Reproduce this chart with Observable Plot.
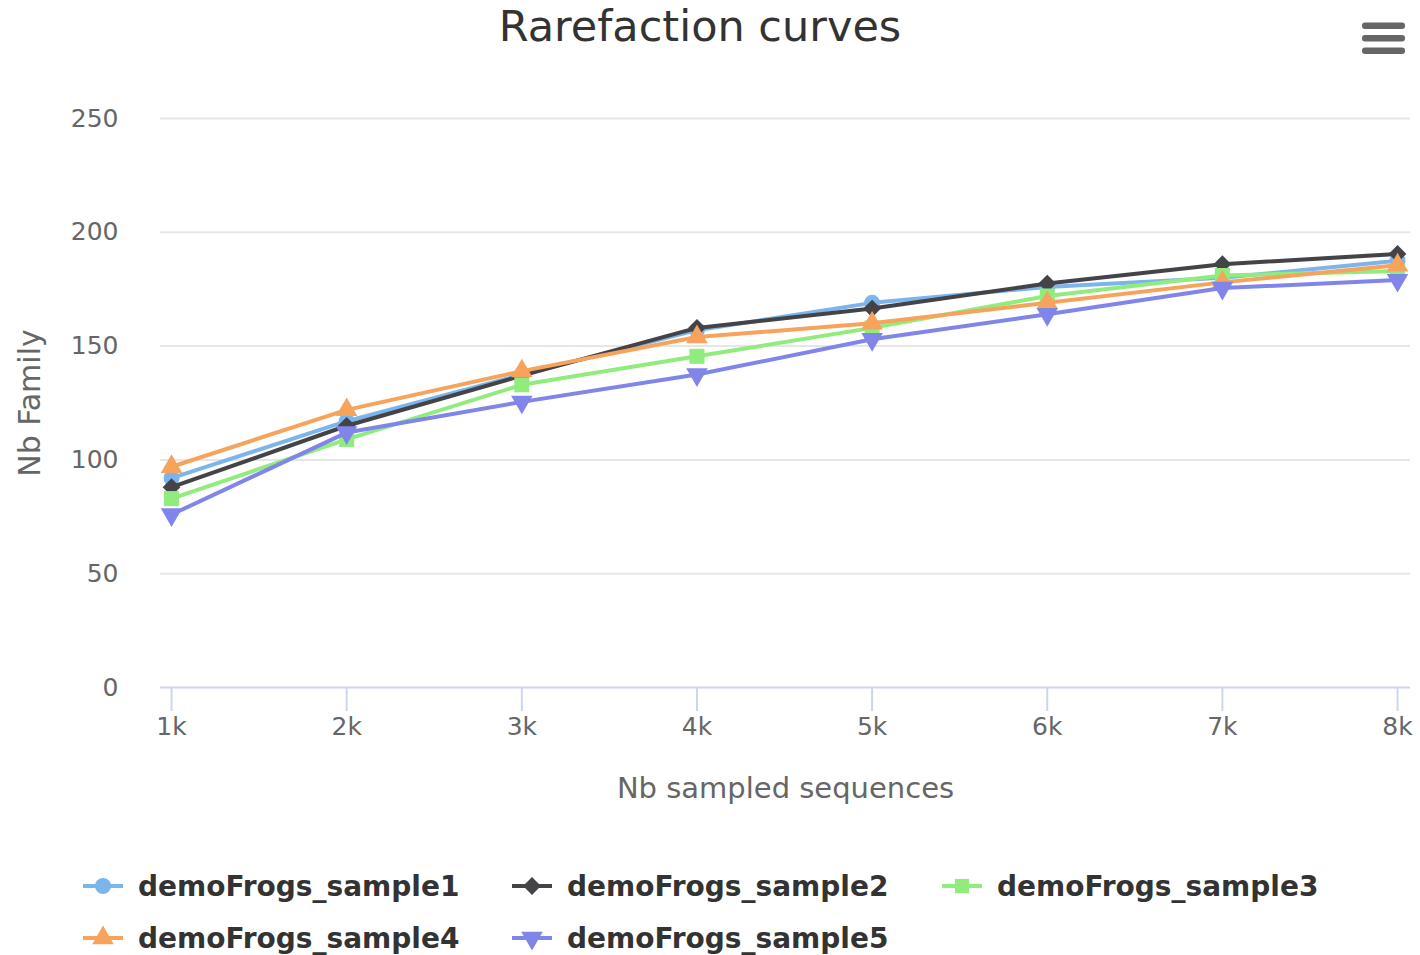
<!DOCTYPE html>
<html>
<head>
<meta charset="utf-8">
<script src="https://cdn.jsdelivr.net/npm/d3@7"></script>
<script src="https://cdn.jsdelivr.net/npm/@observablehq/plot@0.6"></script>
<style>
  body { margin: 0; background: #fff; font-family: "DejaVu Sans", sans-serif; }
  #wrap { position: relative; width: 1420px; height: 955px; overflow: hidden; background: #fff; }
  #title { position: absolute; left: 0; width: 1400px; top: 1px; text-align: center; font-size: 43px; color: #333; white-space: nowrap; }
  #menu { position: absolute; left: 1362px; top: 22px; }
  #chart { position: absolute; left: 0; top: 80px; }
  .leg { position: absolute; height: 40px; display: flex; align-items: center; white-space: nowrap; }
  .leg span { margin-left: 15px; font-weight: bold; font-size: 28px; color: #333; }
</style>
</head>
<body>
<div id="wrap">
  <div id="title">Rarefaction curves</div>
  <svg id="menu" width="44" height="34">
    <rect x="0" y="0.5" width="43" height="6.5" rx="3" fill="#666"></rect>
    <rect x="0" y="13" width="43" height="6.5" rx="3" fill="#666"></rect>
    <rect x="0" y="25.5" width="43" height="6.5" rx="3" fill="#666"></rect>
  </svg>
  <div id="chart"></div>
  <div id="legend"></div>
</div>
<script>
// ---- data ----
const xValues = [1000, 2000, 3000, 4000, 5000, 6000, 7000, 8000];
const xTickLabels = ["1k", "2k", "3k", "4k", "5k", "6k", "7k", "8k"];
const yTicks = [0, 50, 100, 150, 200, 250];
const seriesNames = ["demoFrogs_sample1", "demoFrogs_sample2", "demoFrogs_sample3", "demoFrogs_sample4", "demoFrogs_sample5"];
const sample1 = [92, 117, 137.5, 157, 169, 176, 180, 187.5];
const sample2 = [88, 115, 137, 158, 166.5, 177.5, 186, 190.5];
const sample3 = [83, 109, 133, 145.5, 158, 172, 181, 183];
const sample4 = [97, 122, 139, 154, 160, 169, 178, 185.5];
const sample5 = [76, 112, 125.5, 137.5, 153, 164, 175.5, 179];
const seriesValues = [sample1, sample2, sample3, sample4, sample5];
const colors = ["#7cb5ec", "#434348", "#90ed7d", "#f7a35c", "#8085e9"];
const symbols = ["circle", "diamond2", "square", "triangle", "triangle"];
const rotations = [0, 0, 0, 0, 180];
const xLabel = "Nb sampled sequences";
const yLabel = "Nb Family";

const rows = seriesNames.flatMap((name, i) =>
  seriesValues[i].map((v, j) => ({series: name, x: xValues[j], y: v})));

const seriesMarks = seriesNames.flatMap((name, i) => {
  const d = rows.filter(r => r.series === name);
  return [
    Plot.line(d, {x: "x", y: "y", stroke: "series", strokeWidth: 4}),
    Plot.dot(d, {x: "x", y: "y", fill: "series", symbol: symbols[i], r: symbols[i] === "square" ? 8.5 : 8, rotate: rotations[i], stroke: "none"})
  ];
});

const chart = Plot.plot({
  width: 1420,
  height: 740,
  marginTop: 38,
  marginBottom: 133,
  marginLeft: 160,
  marginRight: 10,
  style: {fontFamily: "DejaVu Sans, sans-serif", fontSize: "25px", color: "#666", background: "transparent"},
  x: {domain: [937, 8074]},
  y: {domain: [0, 250]},
  color: {domain: seriesNames, range: colors},
  marks: [
    Plot.gridY({ticks: yTicks.filter(t => t > 0), stroke: "#e6e6e6", strokeOpacity: 1, strokeWidth: 2}),
    Plot.ruleY([0], {stroke: "#ccd6eb", strokeWidth: 2}),
    Plot.axisX({ticks: xValues, tickFormat: (d) => xTickLabels[xValues.indexOf(d)], tickSize: 24, tickPadding: 6, stroke: "#ccd6eb", strokeWidth: 2, fill: "#666", label: null}),
    Plot.axisY({ticks: yTicks, tickSize: 0, tickPadding: 42, fill: "#666", label: null}),
    Plot.text([yLabel], {frameAnchor: "left", textAnchor: "middle", dx: -130, rotate: -90, fontSize: 30, fill: "#666"}),
    Plot.text([xLabel], {frameAnchor: "bottom", dy: 110, fontSize: 29, fill: "#666"}),
    ...seriesMarks
  ]
});
document.getElementById("chart").appendChild(chart);

// ---- legend ----
const legend = document.getElementById("legend");
const cols = [83, 512, 942];
const rowY = [886, 938];
seriesNames.forEach((name, i) => {
  const item = document.createElement("div");
  item.className = "leg";
  item.style.left = cols[i % 3] + "px";
  item.style.top = (rowY[Math.floor(i / 3)] - 20) + "px";
  const size = Math.PI * 64;
  const symMap = {circle: d3.symbolCircle, diamond2: d3.symbolDiamond2, square: d3.symbolSquare, triangle: d3.symbolTriangle};
  const path = d3.symbol(symMap[symbols[i]], size)();
  item.innerHTML = `<svg width="40" height="40"><line x1="0" x2="40" y1="20" y2="20" stroke="${colors[i]}" stroke-width="4"></line><path d="${path}" fill="${colors[i]}" transform="translate(20,20) rotate(${rotations[i]})"></path></svg><span>${name}</span>`;
  legend.appendChild(item);
});
</script>
</body>
</html>
